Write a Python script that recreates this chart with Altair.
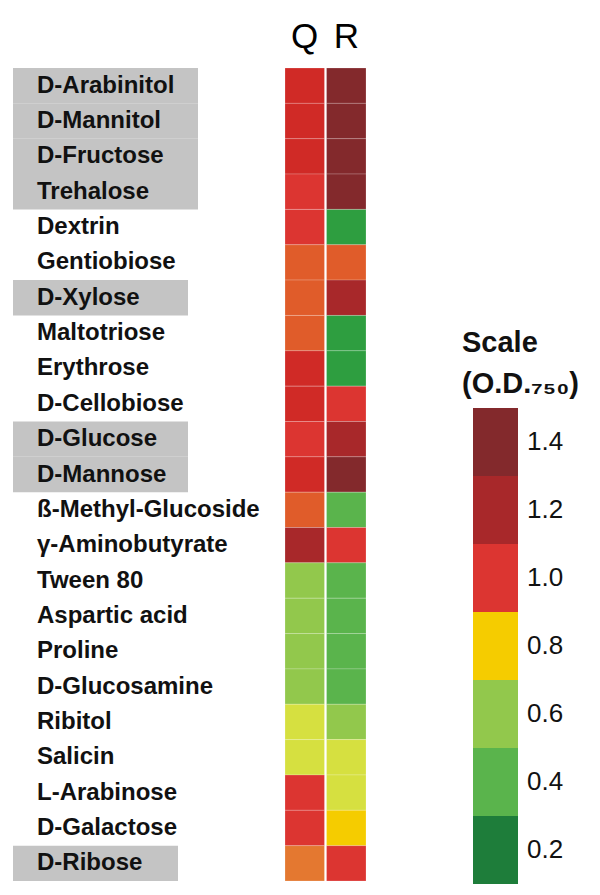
import altair as alt
import pandas as pd

# ---------------- data ----------------
substrates = [
    "D-Arabinitol", "D-Mannitol", "D-Fructose", "Trehalose", "Dextrin",
    "Gentiobiose", "D-Xylose", "Maltotriose", "Erythrose", "D-Cellobiose",
    "D-Glucose", "D-Mannose", "ß-Methyl-Glucoside", "γ-Aminobutyrate",
    "Tween 80", "Aspartic acid", "Proline", "D-Glucosamine", "Ribitol",
    "Salicin", "L-Arabinose", "D-Galactose", "D-Ribose",
]
strains = ["Q", "R"]
od_Q = [1.1, 1.1, 1.1, 1.0, 1.0, 0.9, 0.9, 0.9, 1.1, 1.1, 1.0, 1.1,
        0.9, 1.2, 0.6, 0.6, 0.6, 0.6, 0.7, 0.7, 1.0, 1.0, 0.85]
od_R = [1.4, 1.4, 1.4, 1.4, 0.3, 0.9, 1.2, 0.3, 0.3, 1.0, 1.2, 1.4,
        0.4, 1.0, 0.4, 0.4, 0.4, 0.4, 0.6, 0.7, 0.7, 0.8, 1.0]

# highlighted (grey boxed) substrates and the extent of their box
highlighted = ["D-Arabinitol", "D-Mannitol", "D-Fructose", "Trehalose",
               "D-Xylose", "D-Glucose", "D-Mannose", "D-Ribose"]
highlight_extent = [185, 185, 185, 185, 175, 175, 175, 165]

legend_values = [1.4, 1.2, 1.0, 0.8, 0.6, 0.4, 0.2]

color_stops = [0.2, 0.3, 0.4, 0.6, 0.7, 0.8, 0.85, 0.9, 1.0, 1.1, 1.2, 1.4]
color_range = ["#1e7d3a", "#2e9e40", "#5ab44c", "#92c84c", "#d6e040",
               "#f5cc00", "#e47830", "#e05c2a", "#dc3531", "#d02a26",
               "#a8282a", "#83292c"]

# ---------------- tables ----------------
heat_df = pd.DataFrame(
    [{"substrate": s, "strain": "Q", "od": v} for s, v in zip(substrates, od_Q)]
    + [{"substrate": s, "strain": "R", "od": v} for s, v in zip(substrates, od_R)]
)
label_df = pd.DataFrame({"substrate": substrates})
box_df = pd.DataFrame({"substrate": highlighted, "start": 0, "end": highlight_extent})
leg_df = pd.DataFrame({"od": legend_values})
leg_df["lo"] = leg_df["od"] - 0.1
leg_df["hi"] = leg_df["od"] + 0.1

FONT = "Liberation Sans"
H = 813
LABEL_W = 270

color_scale = alt.Scale(domain=color_stops, range=color_range)
ysc = alt.Scale(domain=substrates, paddingInner=0, paddingOuter=0)

# ---------------- label column ----------------
xlab = alt.Scale(domain=[0, LABEL_W])
boxes = alt.Chart(box_df).mark_rect(color="#c4c4c4").encode(
    x=alt.X("start:Q", scale=xlab, axis=None),
    x2="end:Q",
    y=alt.Y("substrate:N", sort=substrates, scale=ysc, axis=None),
)
texts = alt.Chart(label_df).mark_text(
    align="left", baseline="middle", font=FONT, fontSize=24, fontWeight="bold",
    color="#111111",
).encode(
    x=alt.value(24),
    y=alt.Y("substrate:N", sort=substrates, scale=ysc, axis=None),
    text="substrate:N",
)
labels_chart = alt.layer(boxes, texts).properties(width=LABEL_W, height=H)

# ---------------- heatmap ----------------
heat = alt.Chart(heat_df).mark_rect(
    stroke="white", strokeWidth=0.8, strokeOpacity=0.25
).encode(
    x=alt.X("strain:N", sort=strains,
            scale=alt.Scale(paddingInner=0.05, paddingOuter=0),
            axis=alt.Axis(orient="top", title=None, labelAngle=0, domain=False,
                          ticks=False, grid=False, labelPadding=14, labelFont=FONT,
                          labelFontSize=35, labelColor="black")),
    y=alt.Y("substrate:N", sort=substrates, scale=ysc, axis=None),
    color=alt.Color("od:Q", scale=color_scale, legend=None),
).properties(width=81, height=H)

# ---------------- legend ----------------
yleg = alt.Scale(domain=[0.109, 2.5], nice=False, zero=False)
blocks = alt.Chart(leg_df).mark_rect().encode(
    x=alt.value(105), x2=alt.value(150),
    y=alt.Y("lo:Q", scale=yleg, axis=None), y2="hi:Q",
    color=alt.Color("od:Q", scale=color_scale, legend=None),
)
leg_labels = alt.Chart(leg_df).mark_text(
    align="left", baseline="middle", font=FONT, fontSize=26, color="#111111"
).encode(
    x=alt.value(159),
    y=alt.Y("od:Q", scale=yleg, axis=None),
    text=alt.Text("od:Q", format=".1f"),
)
title_df = pd.DataFrame({"t": ["Scale", "(O.D.₇₅₀)"], "pos": [1.69, 1.57]})
leg_title = alt.Chart(title_df).mark_text(
    align="left", baseline="middle", font=FONT, fontSize=29, fontWeight="bold",
    color="#111111",
).encode(
    x=alt.value(94),
    y=alt.Y("pos:Q", scale=yleg, axis=None),
    text="t:N",
)
legend_chart = alt.layer(blocks, leg_labels, leg_title).properties(width=205, height=H)

chart = alt.hconcat(
    labels_chart, heat, legend_chart,
    spacing=2,
    bounds="flush",
).properties(
    padding={"left": 5, "top": 11, "right": 5, "bottom": 5}
).configure_view(stroke="transparent", strokeWidth=0)

chart.save("out.html", embed_options={"renderer": "svg", "actions": False})
